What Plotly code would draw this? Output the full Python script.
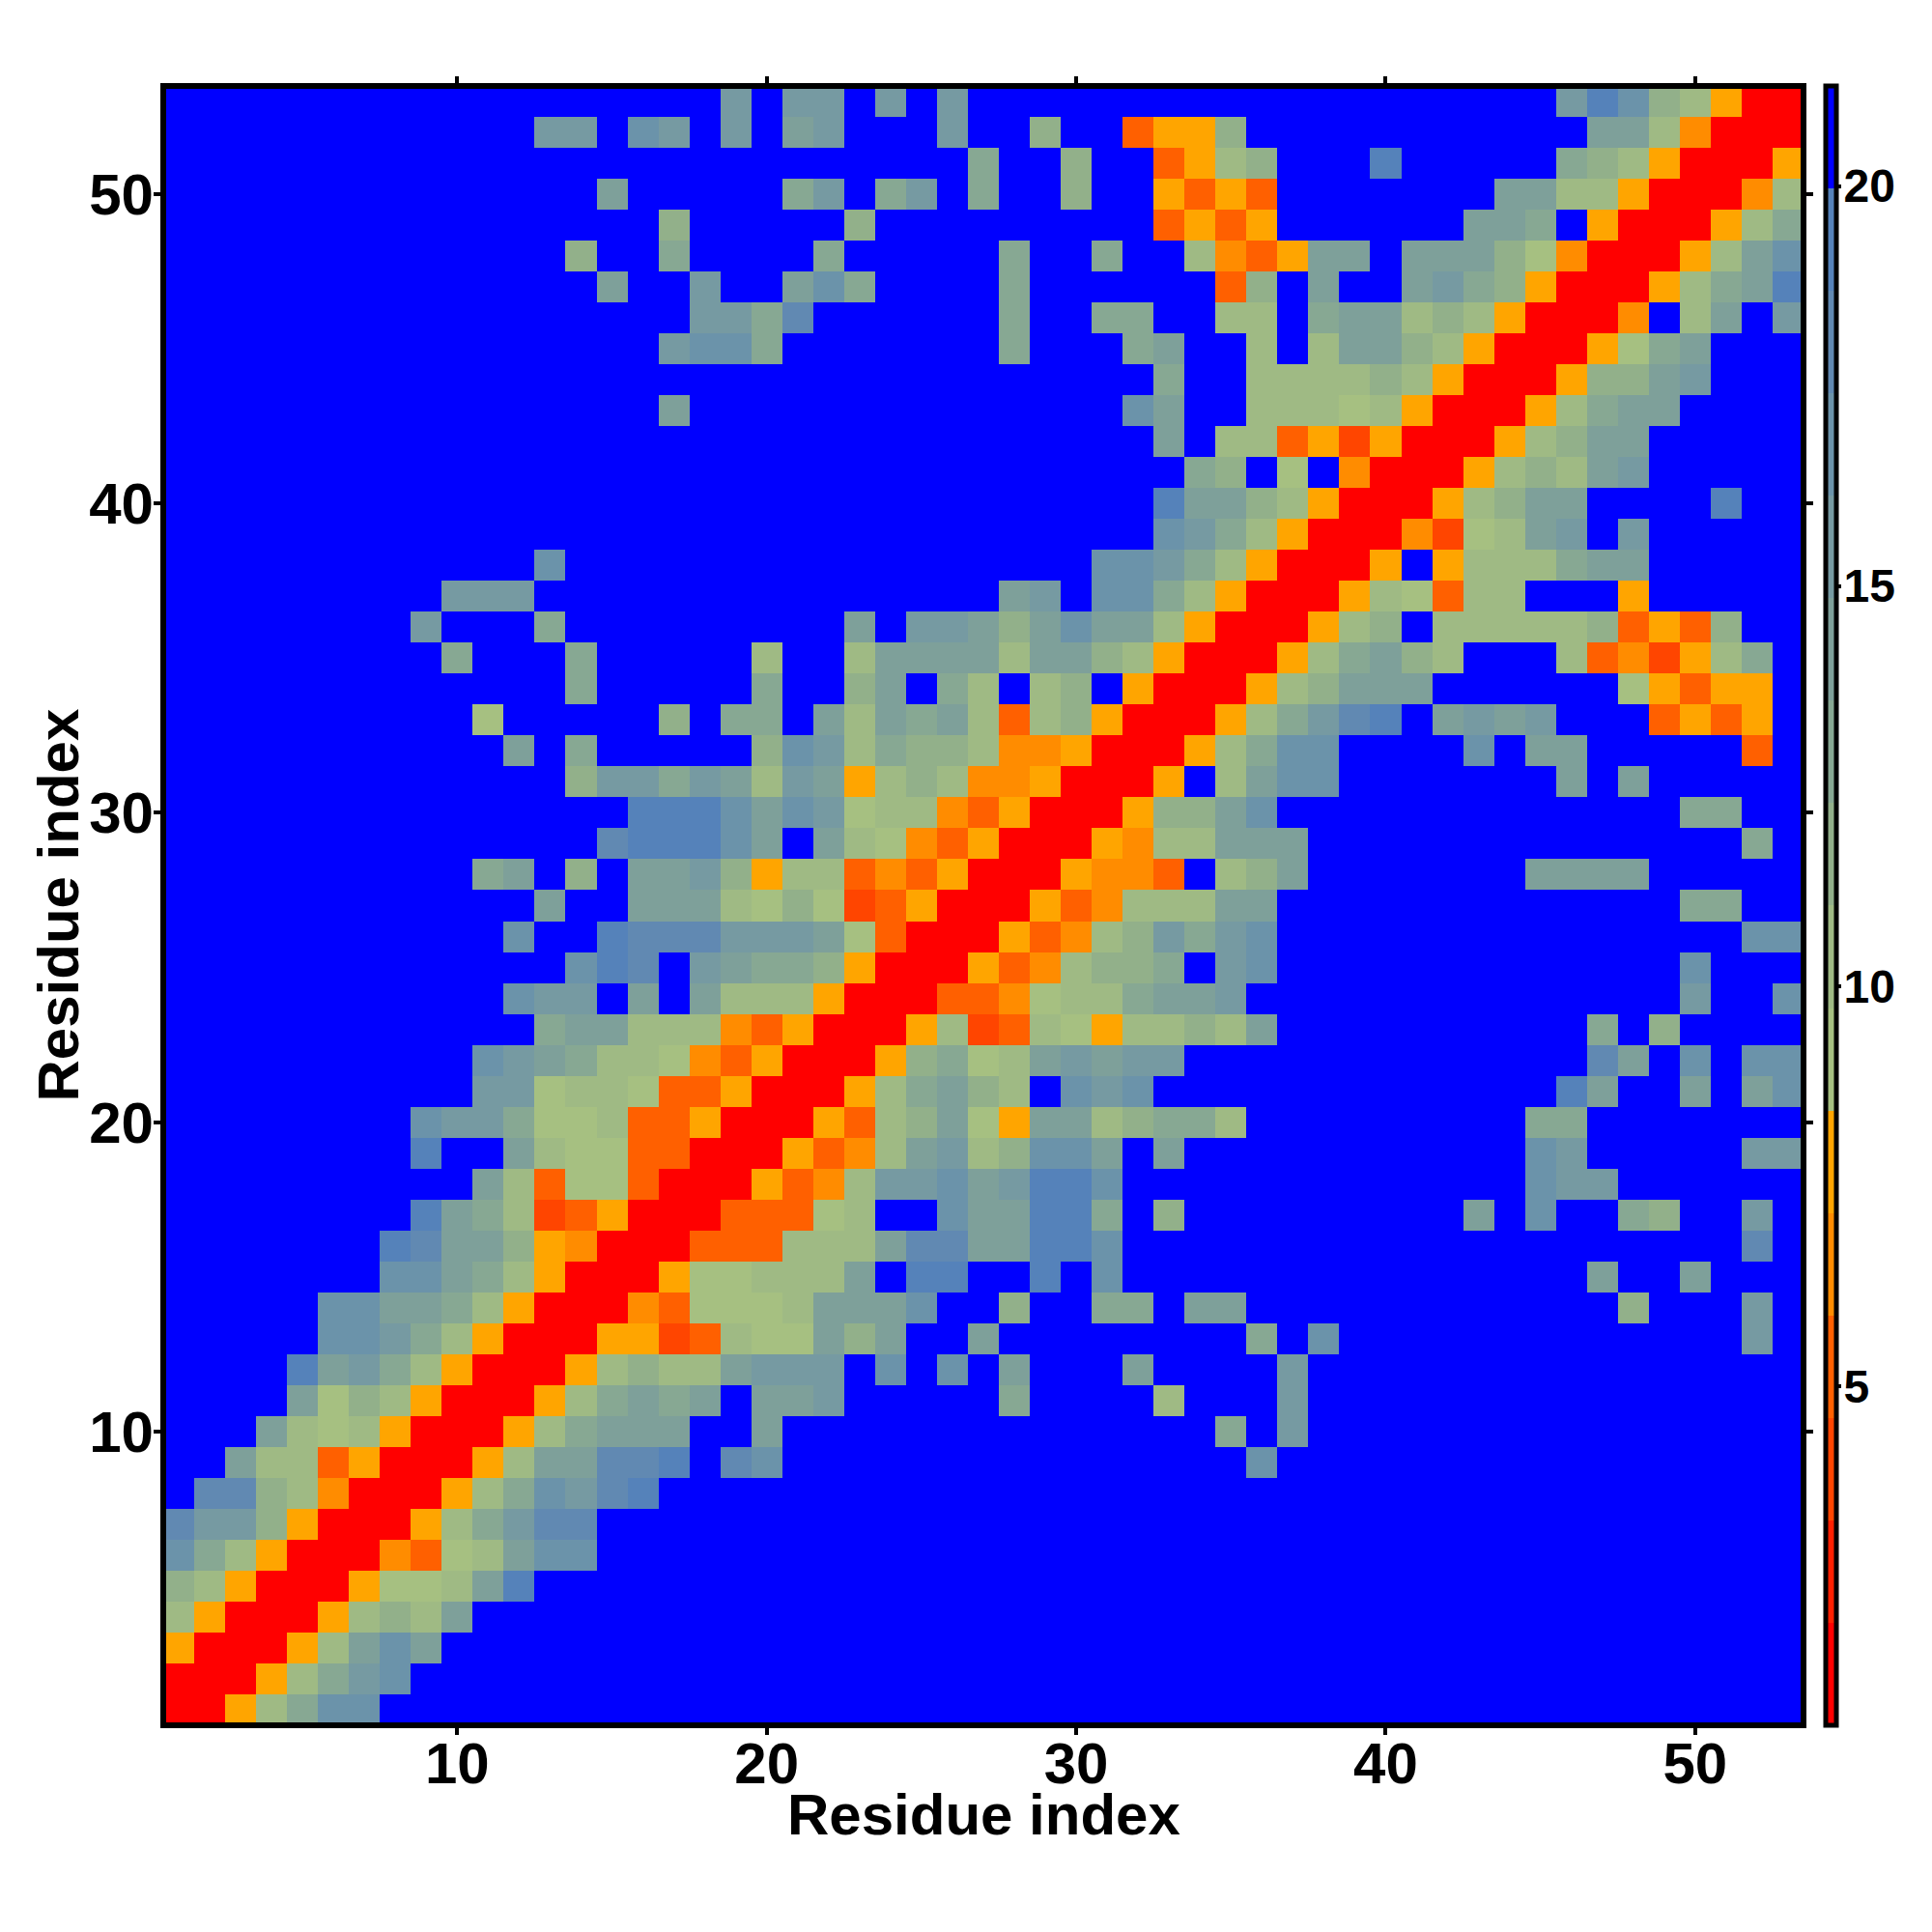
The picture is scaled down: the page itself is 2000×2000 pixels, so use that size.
import plotly.graph_objects as go

RESIDUES = list(range(1, 54))
X_TICKS = [10, 20, 30, 40, 50]
Y_TICKS = [10, 20, 30, 40, 50]
CBAR_TICKS = [5, 10, 15, 20]
Z_MIN = 0.76
Z_MAX = 21.25
AXIS_TITLE = "Residue index"

# one colour per binned level, lowest distance first (codes 0..f)
LEVEL_COLOURS = ["#FF0000", "#FF2000", "#FF4500", "#FF6000", "#FF8C00", "#FFA500",
                 "#A6C081", "#9FBA84", "#92B08A", "#87A893", "#7EA09A", "#769AA2",
                 "#6B93AA", "#6189B2", "#5582BA", "#0000FF"]

# cells: row -> [(first column, level codes)], all others are level f
ROW_CELLS = {
 53: [(19,"b"),(21,"bb"),(24,"b"),(26,"b"),(46,"bec87500")],
 52: [(13,"bb"),(16,"cb"),(19,"b"),(21,"ab"),(26,"b"),(29,"8"),(32,"3558"),(47,"aa74000")],
 51: [(27,"9"),(30,"8"),(33,"3578"),(40,"e"),(46,"98750005")],
 50: [(15,"a"),(21,"9b"),(24,"9b"),(27,"9"),(30,"8"),(33,"5353"),(44,"aa77500047")],
 49: [(17,"8"),(23,"8"),(33,"3535"),(43,"aa9f5000579")],
 48: [(14,"8"),(17,"9"),(22,"9"),(28,"9"),(31,"9"),(34,"7435aafaaa86400057ac")],
 47: [(15,"a"),(18,"b"),(21,"ac9"),(28,"9"),(35,"38"),(38,"a"),(41,"ab985000579ae")],
 46: [(18,"bb9d"),(28,"9"),(31,"99"),(35,"77"),(38,"9aa78750004f7afb")],
 45: [(17,"bcc9"),(28,"9"),(32,"9a"),(36,"7"),(38,"7aa875000569a")],
 44: [(33,"9"),(36,"7777875000588ab")],
 43: [(17,"a"),(32,"ca"),(36,"777675000579aa")],
 42: [(33,"a"),(35,"773525000578aa")],
 41: [(34,"98f6f40005787ab")],
 40: [(33,"eaa875000578aa"),(51,"e")],
 39: [(33,"cb9750004267abfb")],
 38: [(13,"c"),(31,"ccb9750005f57779aa")],
 37: [(10,"bbb"),(28,"ab"),(31,"cc975000576377"),(48,"5")],
 36: [(9,"b"),(13,"9"),(23,"a"),(25,"bba8acaa75000578f77777" + "83538")],
 35: [(10,"9"),(14,"9"),(20,"7"),(23,"7aaaa7aa8750005" + "79a87fff7342579")],
 34: [(14,"9"),(20,"9"),(23,"8af97f78f5000578aaaffffff65355")],
 33: [(11,"6"),(17,"8"),(19,"99"),(22,"a7a9a73785000579bdefababfff3535")],
 32: [(12,"a"),(14,"9"),(20,"8cb79887445000579cc"),(43,"c"),(45,"aa"),(52,"3")],
 31: [(14,"8bb9ba7ba5787445000" + "5f7acc"),(46,"a"),(48,"a")],
 30: [(16,"eeecacb677435000588ac"),(50,"99")],
 29: [(15,"deeecafa7643500054" + "77aaa"),(52,"9")],
 28: [(11,"9a"),(14,"8"),(16,"aab85773435000" + "5443f78a"),(45,"aaaa")],
 27: [(13,"a"),(16,"aaa7686235000534777aa"),(50,"99")],
 26: [(12,"c"),(15,"edddbbba63000534" + "78b9bc"),(52,"cc")],
 25: [(14,"cedfba9985000534" + "7889fbc"),(50,"c")],
 24: [(12,"cbbfafa7775000334" + "6779aab"),(50,"b"),(53,"c")],
 23: [(13,"9aa777435000572376" + "57787a"),(47,"9"),(49,"8")],
 22: [(11,"cba9776435000" + "58967ababb"),(47,"da"),(50,"c"),(52,"cc")],
 21: [(11,"bb6776335000" + "579a87fcbc"),(46,"ea"),(50,"a"),(52,"ac")],
 20: [(9,"cbb9667335000" + "5378a65aa78997"),(45,"99")],
 19: [(9,"e"),(12,"a76633000" + "5347ab78ccafa"),(45,"cb"),(52,"bb")],
 18: [(11,"a73663000" + "5347bbcabeec"),(45,"cbb")],
 17: [(9,"ea97235000" + "33367ffcaaee9f8"),(43,"a"),(45,"c"),(48,"98"),(52,"b")],
 16: [(8,"edaa854000" + "333777addaaeec"),(52,"d")],
 15: [(8,"cca975000" + "566777afeeffefc"),(47,"a"),(50,"a")],
 14: [(6,"ccaa975000" + "436667aaac"),(28,"8"),(31,"99"),(34,"aa"),(48,"8"),(52,"b")],
 13: [(6,"ccb975000" + "5523766a8a"),(27,"a"),(36,"9"),(38,"c"),(52,"b")],
 12: [(5,"eab975000" + "57877abbb"),(24,"c"),(26,"c"),(28,"a"),(32,"a"),(37,"b")],
 11: [(5,"a6875000" + "579a9a"),(20,"aab"),(28,"9"),(33,"7"),(37,"b")],
 10: [(4,"a7675000" + "579aaa"),(20,"a"),(35,"9"),(37,"b")],
 9: [(3,"a7735000" + "57aadde"),(19,"dc"),(36,"c")],
 8: [(2,"dd874000" + "579cbde")],
 7: [(1,"dbb85000" + "579bdd")],
 6: [(1,"c975000" + "4367acc")],
 5: [(1,"875000" + "5667ae")],
 4: [(1,"75000" + "5787a")],
 3: [(1,"5000" + "57aca")],
 2: [(1,"000" + "579bc")],
 1: [(1,"00" + "579cc")],
}

n_levels = len(LEVEL_COLOURS)
step = (Z_MAX - Z_MIN) / n_levels
colorscale = []
for i, c in enumerate(LEVEL_COLOURS):
    colorscale.append([i / n_levels, c])
    colorscale.append([(i + 1) / n_levels, c])

codes = [["f"] * len(RESIDUES) for _ in RESIDUES]
for row, segments in ROW_CELLS.items():
    for first, text in segments:
        for k, code in enumerate(text):
            codes[row - 1][first - 1 + k] = code
z = [[Z_MIN + (int(c, 16) + 0.5) * step for c in r] for r in codes]

FONT = "Liberation Sans"
title_font = dict(family=FONT, size=60, color="black", weight="bold")
fig = go.Figure(go.Heatmap(
    x=RESIDUES, y=RESIDUES, z=z, zmin=Z_MIN, zmax=Z_MAX,
    colorscale=colorscale, hoverongaps=False,
    colorbar=dict(
        thicknessmode="pixels", thickness=11, lenmode="fraction", len=1,
        x=1.0133, xanchor="left", y=0.5, yanchor="middle", xpad=0, ypad=0,
        outlinewidth=5, outlinecolor="black", borderwidth=0,
        tickmode="array", tickvals=CBAR_TICKS, ticks="outside", ticklen=3,
        tickwidth=4, tickcolor="black",
        tickfont=dict(family=FONT, size=48, color="black", weight="bold"),
    ),
))
axis = dict(
    range=[0.5, 53.5], tickmode="array", ticks="outside", ticklen=9, tickwidth=4,
    tickcolor="black", showline=False, mirror="ticks", showgrid=False, zeroline=False,
    tickfont=dict(family=FONT, size=60, color="black", weight="bold"),
)
fig.update_xaxes(**axis, tickvals=X_TICKS, ticklabelstandoff=-22)
fig.update_yaxes(**axis, tickvals=Y_TICKS, ticklabelstandoff=-12)
fig.update_layout(
    width=2000, height=2000, autosize=False,
    margin=dict(l=169, r=133, t=89, b=214, autoexpand=False),
    paper_bgcolor="white", plot_bgcolor="white",
    shapes=[dict(type="rect", xref="paper", yref="paper", x0=0, x1=1, y0=0, y1=1,
                 line=dict(color="black", width=6), fillcolor="rgba(0,0,0,0)", layer="above")],
    annotations=[
        dict(text=AXIS_TITLE, xref="paper", yref="paper", x=0.5, y=0, yanchor="middle",
             xanchor="center", yshift=-92, showarrow=False, font=title_font),
        dict(text=AXIS_TITLE, xref="paper", yref="paper", x=0, y=0.5, yanchor="middle",
             xanchor="center", xshift=-109, textangle=-90, showarrow=False, font=title_font),
    ],
)
# the colour bar's labels sit closer to the bar than plotly's fixed label offset allows
post = """document.body.style.margin='0';
document.querySelectorAll('.colorbar .cbaxis text, .colorbar .ytick text').forEach(function(t){
  t.setAttribute('x', parseFloat(t.getAttribute('x')) - 7);
  var tr = t.getAttribute('transform');
  if (tr) { t.setAttribute('transform', tr.replace(/translate\\(([-0-9.]+)/, function(m, v){ return 'translate(' + v; })); }
});"""
fig.write_html("out.html", config={"displayModeBar": False}, post_script=post)
